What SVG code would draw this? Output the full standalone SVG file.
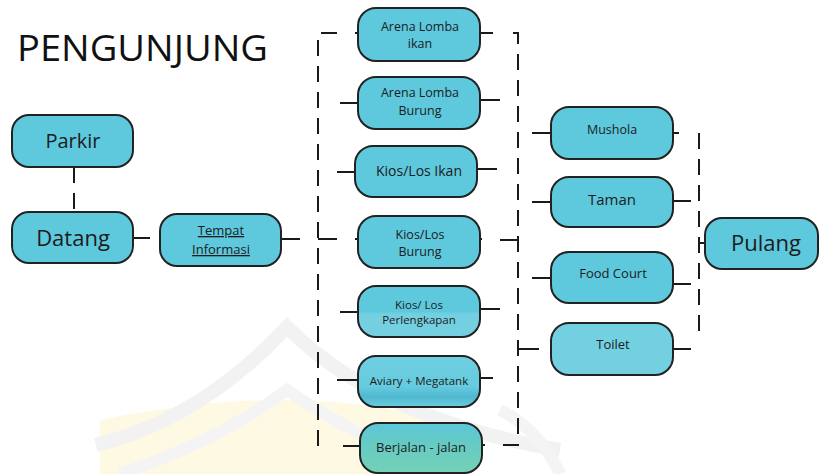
<svg xmlns="http://www.w3.org/2000/svg" width="819" height="474" viewBox="0 0 819 474">
  <defs>
    <style>
      .node rect { fill: #5ec8dd; stroke: #222; stroke-width: 2; }
      .lbl { font-family: "Open Sans", "Noto Sans", "Liberation Sans", sans-serif; fill: #1c1c1c; text-anchor: middle; }
      .stub { stroke: #1a1a1a; stroke-width: 2; fill: none; }
      .dash { stroke: #1a1a1a; stroke-width: 2; fill: none; stroke-dasharray: 16 10; }
    </style>
    <linearGradient id="walkFill" x1="0" y1="0" x2="0" y2="1">
      <stop offset="0" stop-color="#5cc6da"/>
      <stop offset="0.35" stop-color="#64cac6"/>
      <stop offset="1" stop-color="#74d1b6"/>
    </linearGradient>
    <linearGradient id="lowFill" x1="0" y1="0" x2="0" y2="1">
      <stop offset="0" stop-color="#5ec8dd"/>
      <stop offset="0.5" stop-color="#5ec8dd"/>
      <stop offset="0.55" stop-color="#74d0e1"/>
      <stop offset="1" stop-color="#74d0e1"/>
    </linearGradient>
    <linearGradient id="aviaryFill" x1="0" y1="0" x2="0" y2="1">
      <stop offset="0" stop-color="#6ecfe0"/>
      <stop offset="0.6" stop-color="#66cbdf"/>
      <stop offset="0.8" stop-color="#4fb8cf"/>
      <stop offset="1" stop-color="#6ccde0"/>
    </linearGradient>
  </defs>

  <rect width="819" height="474" fill="#ffffff"/>

  <!-- faint emblem in the background -->
  <g id="emblem" fill="none" opacity="0.35">
    <path d="M100,470 L100,420 Q200,400 287,400 Q380,400 470,430 L470,474 L100,474 Z" fill="#fbeeb0" stroke="none"/>
    <path d="M96,445 Q200,420 287,327 Q380,420 560,450" stroke="#dcdcdc" stroke-width="14"/>
    <path d="M120,474 Q220,440 287,390 Q360,440 450,474" stroke="#e2e2e2" stroke-width="12"/>
    <path d="M500,410 Q540,430 560,474" stroke="#e0e0e0" stroke-width="12"/>
  </g>

  <!-- heading -->
  <text x="17" y="61" font-family="Open Sans, Noto Sans, sans-serif" font-weight="400" font-size="36" fill="#111" textLength="251" lengthAdjust="spacingAndGlyphs">PENGUNJUNG</text>

  <!-- connectors -->
  <g id="connectors">
    <!-- Parkir to Datang -->
    <path class="dash" d="M74,167 V212" stroke-dasharray="17 22"/>
    <!-- Datang to Tempat Informasi -->
    <path class="stub" d="M133,238 H150"/>
    <!-- Tempat Informasi to attraction bracket -->
    <path class="stub" d="M281,239 H300"/>
    <!-- left bracket of attractions -->
    <path class="dash" d="M337,33 H318 V447 H326" stroke-dasharray="18 10"/>
    <path class="stub" d="M318,239 H337"/>
    <path class="stub" d="M355,33 H358"/>
    <path class="stub" d="M340,103 H358"/>
    <path class="stub" d="M337,172 H355"/>
    <path class="stub" d="M355,239 H358"/>
    <path class="stub" d="M340,312 H358"/>
    <path class="stub" d="M337,380 H358"/>
    <path class="stub" d="M343,446 H360"/>
    <!-- right bracket of attractions, shared with facilities -->
    <path class="dash" d="M513,33 H518 V445 H500" stroke-dasharray="18 10"/>
    <path class="stub" d="M480,33 H493"/>
    <path class="stub" d="M480,100 H500"/>
    <path class="stub" d="M477,169 H497"/>
    <path class="stub" d="M480,239 H482"/>
    <path class="stub" d="M500,240 H518"/>
    <path class="stub" d="M480,309 H500"/>
    <path class="stub" d="M480,378 H493"/>
    <path class="stub" d="M482,445 H485"/>
    <!-- facility stubs -->
    <path class="stub" d="M532,133 H551"/>
    <path class="stub" d="M532,202 H551"/>
    <path class="stub" d="M532,278 H551"/>
    <path class="stub" d="M518,349 H539"/>
    <path class="stub" d="M673,133 H679"/>
    <path class="stub" d="M673,201 H691"/>
    <path class="stub" d="M673,284 H691"/>
    <path class="stub" d="M673,349 H691"/>
    <!-- bracket to Pulang -->
    <path class="dash" d="M699,133 V339" stroke-dasharray="18 12"/>
    <path class="stub" d="M699,243 H706"/>
  </g>

  <!-- entry path -->
  <g id="parkir" class="node">
    <rect x="12" y="115" width="121" height="52" rx="17"/>
    <text class="lbl" x="73" y="148" font-size="20">Parkir</text>
  </g>
  <g id="datang" class="node">
    <rect x="12" y="212" width="121" height="51" rx="17"/>
    <text class="lbl" x="73" y="246" font-size="22">Datang</text>
  </g>
  <g id="tempat-informasi" class="node">
    <rect x="160" y="214" width="121" height="52" rx="17"/>
    <text class="lbl" x="221" y="235" font-size="13" text-decoration="underline">Tempat</text>
    <text class="lbl" x="221" y="254" font-size="13" text-decoration="underline">Informasi</text>
  </g>

  <!-- attractions -->
  <g id="arena-lomba-ikan" class="node">
    <rect x="358" y="8" width="122" height="53" rx="18"/>
    <text class="lbl" x="420" y="31" font-size="12.5">Arena Lomba</text>
    <text class="lbl" x="420" y="48" font-size="12.5">ikan</text>
  </g>
  <g id="arena-lomba-burung" class="node">
    <rect x="358" y="77" width="122" height="52" rx="18"/>
    <text class="lbl" x="420" y="97" font-size="12.5">Arena Lomba</text>
    <text class="lbl" x="420" y="115" font-size="12.5">Burung</text>
  </g>
  <g id="kios-los-ikan" class="node">
    <rect x="355" y="146" width="122" height="51" rx="18"/>
    <text class="lbl" x="419" y="176" font-size="14">Kios/Los Ikan</text>
  </g>
  <g id="kios-los-burung" class="node">
    <rect x="358" y="216" width="122" height="52" rx="18"/>
    <text class="lbl" x="420" y="239" font-size="12.5">Kios/Los</text>
    <text class="lbl" x="420" y="256" font-size="12.5">Burung</text>
  </g>
  <g id="kios-los-perlengkapan" class="node">
    <rect x="358" y="286" width="122" height="51" rx="18" style="fill:url(#lowFill)"/>
    <text class="lbl" x="419" y="309" font-size="11.5">Kios/ Los</text>
    <text class="lbl" x="419" y="324" font-size="11.5">Perlengkapan</text>
  </g>
  <g id="aviary-megatank" class="node">
    <rect x="358" y="356" width="122" height="51" rx="18" style="fill:url(#aviaryFill)"/>
    <text class="lbl" x="419" y="385" font-size="11.5">Aviary + Megatank</text>
  </g>
  <g id="berjalan-jalan" class="node">
    <rect x="360" y="423" width="122" height="50" rx="18" style="fill:url(#walkFill)"/>
    <text class="lbl" x="421" y="452" font-size="13">Berjalan - jalan</text>
  </g>

  <!-- facilities -->
  <g id="mushola" class="node">
    <rect x="551" y="107" width="122" height="52" rx="18"/>
    <text class="lbl" x="612" y="134" font-size="12.5">Mushola</text>
  </g>
  <g id="taman" class="node">
    <rect x="551" y="177" width="122" height="50" rx="18"/>
    <text class="lbl" x="612" y="205" font-size="15">Taman</text>
  </g>
  <g id="food-court" class="node">
    <rect x="551" y="252" width="122" height="51" rx="18"/>
    <text class="lbl" x="613" y="278" font-size="13">Food Court</text>
  </g>
  <g id="toilet" class="node">
    <rect x="551" y="323" width="122" height="52" rx="18" style="fill:#72d0e1"/>
    <text class="lbl" x="613" y="349" font-size="13">Toilet</text>
  </g>

  <!-- exit -->
  <g id="pulang" class="node">
    <rect x="705" y="218" width="113" height="51" rx="17"/>
    <text class="lbl" x="766" y="251" font-size="22">Pulang</text>
  </g>
</svg>
